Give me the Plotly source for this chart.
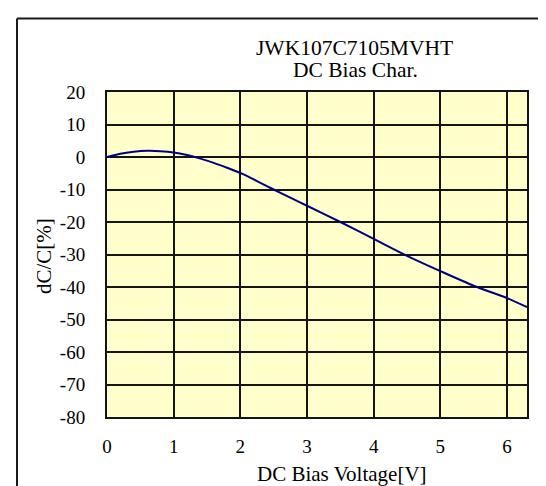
import plotly.graph_objects as go

# Data
voltage = [0.0, 0.2, 0.4, 0.6, 0.8, 1.0, 1.2, 1.4, 1.6, 1.8, 2.0, 2.25, 2.5, 2.75,
           3.0, 3.5, 4.0, 4.5, 5.0, 5.5, 6.0, 6.3]
dcc = [0.0, 1.0, 1.6, 1.9, 1.8, 1.4, 0.6, -0.5, -1.8, -3.3, -4.9, -7.4, -10.0, -12.5,
       -15.0, -20.0, -25.2, -30.4, -35.1, -39.6, -43.4, -46.2]

x_ticks = [0, 1, 2, 3, 4, 5, 6]
y_ticks = [20, 10, 0, -10, -20, -30, -40, -50, -60, -70, -80]

title_line1 = "JWK107C7105MVHT"
title_line2 = "DC Bias Char."
x_title = "DC Bias Voltage[V]"
y_title = "dC/C[%]"

FONT = "Liberation Serif, Times New Roman, serif"
W, H = 546, 486
L, R, T, B = 99, 27, 84, 77
pw, ph = W - L - R, H - T - B


def px(x):
    return (x - L) / pw


def py(y):
    return (H - B - y) / ph


fig = go.Figure()
fig.add_trace(go.Scatter(x=voltage, y=dcc, mode="lines",
                         line=dict(color="#00007F", width=2, shape="spline", smoothing=0.8),
                         showlegend=False, hoverinfo="x+y"))

axis_common = dict(showgrid=True, gridcolor="#141414", gridwidth=2,
                   showline=True, linecolor="#141414", linewidth=2, mirror=True,
                   zeroline=False, ticks="outside", tickcolor="rgba(0,0,0,0)",
                   tickfont=dict(family=FONT, size=19, color="#000000"))

fig.update_xaxes(range=[0, 6.3], tickvals=x_ticks, ticktext=[str(v) for v in x_ticks],
                 ticklen=11, **axis_common)
fig.update_yaxes(range=[-80, 20], tickvals=y_ticks, ticktext=[str(v) for v in y_ticks],
                 ticklen=16, **axis_common)

annotations = [
    dict(text=title_line1, x=px(346), y=py(39.5), size=21.5),
    dict(text=title_line2, x=px(347), y=py(61.5), size=21.5),
    dict(text=x_title, x=px(334), y=py(466), size=21),
]
anns = []
for a in annotations:
    anns.append(dict(text=a["text"], x=a["x"], y=a["y"], xref="paper", yref="paper",
                     xanchor="center", yanchor="middle", showarrow=False,
                     font=dict(family=FONT, size=a["size"], color="#000000")))
anns.append(dict(text=y_title, x=px(36), y=py(248), xref="paper", yref="paper",
                 xanchor="center", yanchor="middle", showarrow=False, textangle=-90,
                 font=dict(family=FONT, size=21, color="#000000")))

shapes = [
    dict(type="line", xref="paper", yref="paper", x0=px(9), x1=px(560), y0=py(10.5), y1=py(10.5),
         line=dict(color="#1a1a1a", width=2)),
    dict(type="line", xref="paper", yref="paper", x0=px(9), x1=px(9), y0=py(10.5), y1=py(500),
         line=dict(color="#1a1a1a", width=2)),
]

fig.update_layout(width=W, height=H, margin=dict(l=L, r=R, t=T, b=B, autoexpand=False),
                  paper_bgcolor="#FFFFFF", plot_bgcolor="#FFFFCC",
                  annotations=anns, shapes=shapes, showlegend=False)

fig.write_html("out.html")
